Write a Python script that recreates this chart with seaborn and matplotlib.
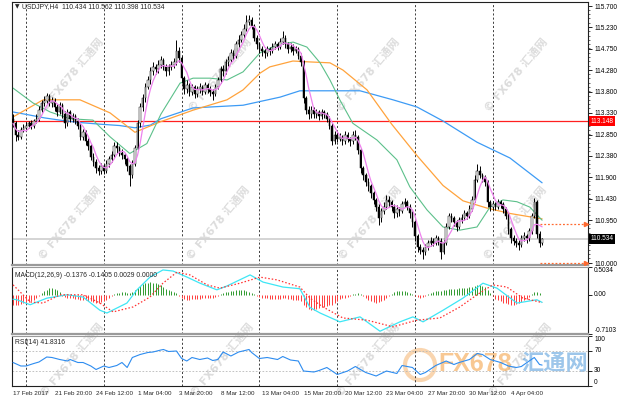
import numpy as np
import pandas as pd
import matplotlib
matplotlib.use("Agg")
import matplotlib.pyplot as plt
import seaborn as sns
from matplotlib.patches import Circle
from matplotlib.transforms import IdentityTransform, blended_transform_factory
from matplotlib.ticker import MultipleLocator

# ---- USDJPY H4 bars (open of a bar = close of the bar before) ----
first_open = 113.20
close = [113.10, 112.85, 112.80, 112.95, 113.00, 113.05, 113.10, 113.05, 113.15, 113.20,
         113.40, 113.55, 113.60, 113.70, 113.55, 113.60, 113.45, 113.35, 113.50, 113.30,
         113.10, 113.35, 113.20, 113.25, 113.15, 113.05, 112.80, 112.90, 112.70, 112.60,
         112.35, 112.25, 112.10, 112.05, 112.15, 112.05, 112.20, 112.30, 112.40, 112.60,
         112.55, 112.45, 112.40, 112.30, 112.15, 111.95, 112.20, 112.55, 113.10, 113.45,
         113.65, 113.90, 114.05, 114.25, 114.35, 114.30, 114.40, 114.50, 114.35, 114.25,
         114.35, 114.40, 114.45, 114.70, 114.55, 114.10, 113.85, 113.95, 113.80, 113.90,
         113.75, 113.85, 113.90, 113.80, 113.95, 113.85, 113.80, 113.75, 113.90, 114.05,
         114.30, 114.25, 114.45, 114.50, 114.65, 114.60, 114.85, 114.95, 115.05, 115.20,
         115.35, 115.40, 115.25, 115.00, 114.85, 114.75, 114.70, 114.65, 114.75, 114.70,
         114.80, 114.85, 114.80, 114.90, 115.00, 114.85, 114.75, 114.80, 114.70, 114.75,
         114.60, 114.45, 113.65, 113.40, 113.30, 113.40, 113.30, 113.35, 113.25, 113.35,
         113.30, 113.20, 113.05, 112.70, 112.85, 112.75, 112.80, 112.70, 112.85, 112.75,
         112.70, 112.85, 112.80, 112.50, 112.10, 111.95, 111.80, 111.70, 111.55, 111.40,
         111.25, 111.00, 111.15, 111.25, 111.40, 111.35, 111.25, 111.10, 111.20, 111.15,
         111.30, 111.35, 111.25, 111.10, 110.90, 110.60, 110.35, 110.30, 110.25, 110.35,
         110.45, 110.50, 110.45, 110.55, 110.50, 110.25, 110.45, 110.80, 111.05, 111.00,
         110.90, 110.80, 110.95, 111.00, 111.10, 111.05, 111.20, 111.40, 111.85, 112.05,
         111.95, 111.90, 111.80, 111.35, 111.25, 111.30, 111.25, 111.35, 111.30, 111.20,
         111.05, 110.75, 110.55, 110.50, 110.45, 110.40, 110.55, 110.60, 110.55, 110.70,
         111.05, 111.35, 110.65, 110.434, 110.534]
high = [113.30, 113.15, 112.95, 113.02, 113.08, 113.12, 113.15, 113.18, 113.20, 113.30,
        113.48, 113.62, 113.70, 113.78, 113.75, 113.68, 113.65, 113.52, 113.58, 113.55,
        113.38, 113.42, 113.40, 113.32, 113.30, 113.22, 113.10, 112.98, 112.95, 112.78,
        112.65, 112.45, 112.30, 112.18, 112.22, 112.20, 112.28, 112.38, 112.48, 112.68,
        112.68, 112.60, 112.52, 112.45, 112.35, 112.20, 112.28, 112.62, 113.18, 113.55,
        113.75, 114.00, 114.15, 114.35, 114.45, 114.42, 114.50, 114.60, 114.55, 114.42,
        114.42, 114.48, 114.55, 114.95, 114.80, 114.60, 114.15, 114.05, 114.00, 113.98,
        113.95, 113.92, 114.00, 113.95, 114.02, 114.00, 113.92, 113.85, 113.98, 114.12,
        114.38, 114.40, 114.52, 114.60, 114.75, 114.72, 114.92, 115.05, 115.15, 115.30,
        115.50, 115.50, 115.45, 115.30, 115.05, 114.90, 114.82, 114.75, 114.82, 114.80,
        114.88, 114.92, 114.90, 114.98, 115.15, 115.05, 114.90, 114.88, 114.85, 114.82,
        114.80, 114.65, 114.50, 113.70, 113.48, 113.48, 113.45, 113.42, 113.40, 113.42,
        113.40, 113.35, 113.25, 113.10, 112.92, 112.90, 112.88, 112.85, 112.92, 112.90,
        112.80, 112.92, 112.95, 112.85, 112.55, 112.15, 112.00, 111.88, 111.75, 111.60,
        111.45, 111.30, 111.22, 111.35, 111.50, 111.48, 111.40, 111.30, 111.28, 111.25,
        111.38, 111.45, 111.40, 111.30, 111.15, 110.95, 110.65, 110.42, 110.35, 110.42,
        110.52, 110.58, 110.55, 110.62, 110.60, 110.55, 110.52, 110.88, 111.12, 111.10,
        111.05, 110.95, 111.02, 111.08, 111.18, 111.15, 111.28, 111.48, 111.95, 112.20,
        112.15, 112.00, 111.95, 111.85, 111.40, 111.38, 111.35, 111.42, 111.40, 111.35,
        111.25, 111.10, 110.80, 110.62, 110.55, 110.52, 110.62, 110.68, 110.65, 110.78,
        111.12, 111.45, 111.40, 110.70, 110.562]
low = [113.02, 112.70, 112.72, 112.75, 112.90, 112.95, 113.00, 112.98, 113.00, 113.10,
       113.15, 113.35, 113.48, 113.55, 113.48, 113.45, 113.38, 113.25, 113.30, 113.22,
       113.00, 113.05, 113.12, 113.12, 113.08, 112.98, 112.72, 112.72, 112.62, 112.50,
       112.28, 112.15, 112.00, 111.95, 111.98, 111.98, 112.00, 112.12, 112.25, 112.35,
       112.45, 112.38, 112.30, 112.20, 112.05, 111.70, 111.88, 112.15, 112.50, 113.02,
       113.38, 113.58, 113.85, 113.98, 114.18, 114.20, 114.22, 114.32, 114.28, 114.15,
       114.18, 114.28, 114.32, 114.40, 114.45, 114.00, 113.75, 113.78, 113.70, 113.72,
       113.65, 113.68, 113.78, 113.72, 113.75, 113.78, 113.70, 113.62, 113.70, 113.85,
       114.00, 114.15, 114.20, 114.38, 114.45, 114.50, 114.55, 114.80, 114.90, 115.00,
       115.15, 115.28, 115.18, 114.92, 114.75, 114.65, 114.60, 114.55, 114.60, 114.62,
       114.65, 114.75, 114.72, 114.75, 114.85, 114.78, 114.65, 114.68, 114.62, 114.65,
       114.52, 114.38, 113.55, 113.30, 113.20, 113.22, 113.22, 113.22, 113.18, 113.20,
       113.22, 113.12, 112.98, 112.62, 112.65, 112.68, 112.70, 112.62, 112.65, 112.68,
       112.60, 112.65, 112.72, 112.42, 112.00, 111.85, 111.70, 111.60, 111.45, 111.30,
       111.15, 110.85, 110.92, 111.08, 111.20, 111.25, 111.15, 111.00, 111.02, 111.05,
       111.10, 111.25, 111.18, 111.00, 110.80, 110.50, 110.25, 110.20, 110.10, 110.18,
       110.28, 110.38, 110.38, 110.40, 110.40, 110.10, 110.20, 110.40, 110.75, 110.92,
       110.82, 110.72, 110.75, 110.88, 110.95, 110.98, 111.00, 111.15, 111.35, 111.80,
       111.88, 111.80, 111.70, 111.25, 111.15, 111.18, 111.18, 111.20, 111.22, 111.12,
       110.98, 110.65, 110.45, 110.40, 110.35, 110.30, 110.35, 110.48, 110.45, 110.50,
       110.65, 111.00, 110.55, 110.35, 110.398]

# ---- moving averages (bar position, price) ----
green_bar = [0, 7.7, 14.3, 22, 30.8, 37.4, 45, 51.6, 57, 64.4, 69.4, 76, 82.5, 88.7, 95.2,
             101.8, 108, 113.3, 118.4, 122.2, 126, 131, 140.3, 148, 153, 159.6, 165.8,
             172.3, 178.9, 183.9, 188.9, 194.3, 199.3, 204]
green_val = [113.88, 113.55, 113.35, 113.20, 113.17, 112.80, 112.43, 112.65, 113.30, 113.99,
             114.10, 114.10, 114.06, 114.24, 114.66, 114.84, 114.90, 114.79, 114.44, 114.06,
             113.62, 113.10, 112.73, 112.29, 111.69, 111.18, 110.80, 110.73, 110.80, 111.24,
             111.40, 111.36, 111.24, 110.95]
orange_bar = [0, 11.6, 25.8, 37.4, 47, 56.7, 69.4, 82.5, 88.7, 95.2, 99, 107.9, 114.5, 122.2,
              127.2, 136.5, 146, 155.8, 165.8, 173.5, 182.7, 191.6, 204]
orange_val = [113.24, 113.62, 113.62, 113.33, 112.90, 113.13, 113.39, 113.62, 113.84, 114.21,
              114.35, 114.48, 114.46, 114.44, 114.28, 113.84, 113.08, 112.38, 111.72, 111.38,
              111.22, 111.10, 110.98]
blue_bar = [0, 6.6, 12, 18, 25, 33.5, 41, 47, 53, 57, 69.4, 88.7, 103, 110.6, 133.8, 146.5,
            155.8, 165.8, 178.9, 191.6, 204]
blue_val = [113.35, 113.28, 113.22, 113.17, 113.12, 113.08, 113.05, 113.00, 113.06, 113.20,
            113.44, 113.50, 113.68, 113.82, 113.82, 113.62, 113.46, 113.15, 112.68, 112.33,
            111.78]
level_red = 113.148
bid = 110.534
order_levels = [110.87, 110.00]

# ---- MACD(12,26,9) ----
macd_bar = [0, 1.5, 6.6, 13.1, 20.8, 27, 33.5, 36.2, 43.9, 47.8, 52.8, 57.8, 61.7, 67.1, 72.1,
            78.6, 82.5, 91.4, 96.4, 104.1, 110.6, 114.5, 118.4, 126, 133.8, 141.5, 149.2,
            154.2, 158.1, 165.8, 173.5, 181.2, 186.6, 194.3, 202, 204]
macd_val = [-0.08, -0.09, -0.18, -0.06, 0.0, -0.04, -0.28, -0.33, -0.15, 0.09, 0.32, 0.45,
            0.43, 0.32, 0.21, 0.09, 0.16, 0.36, 0.23, 0.14, 0.11, -0.23, -0.33, -0.49, -0.40,
            -0.66, -0.49, -0.40, -0.49, -0.28, -0.06, 0.21, 0.12, -0.15, -0.09, -0.1376]
signal_bar = [0, 6.6, 11.6, 18.1, 27, 33.5, 38.6, 46.3, 52.8, 57.8, 63.2, 68.2, 74.8, 79.8,
              87.5, 95.2, 101.8, 110.6, 114.5, 119.5, 127.2, 136.5, 146.5, 155.7, 164.6,
              172.3, 178.9, 185, 190.4, 196.6, 204]
signal_val = [0.18, -0.13, -0.15, 0.0, 0.0, -0.15, -0.31, -0.22, -0.04, 0.21, 0.41, 0.36,
              0.18, 0.12, 0.21, 0.32, 0.27, 0.14, -0.06, -0.22, -0.42, -0.46, -0.58, -0.46,
              -0.42, -0.22, 0.0, 0.18, 0.14, -0.06, -0.1405]
hist = [-0.18, -0.19, -0.18, -0.16, -0.15, -0.14, -0.13, -0.11, -0.09, -0.06,
        -0.03, 0.03, 0.06, 0.09, 0.12, 0.13, 0.11, 0.08, 0.05, -0.02,
        -0.04, -0.05, -0.06, -0.05, -0.07, -0.08, -0.09, -0.10, -0.09, -0.11,
        -0.12, -0.13, -0.14, -0.14, -0.13, -0.12, -0.09, -0.06, -0.03, 0.01,
        0.03, 0.04, 0.05, 0.05, 0.04, 0.03, 0.05, 0.09, 0.13, 0.16,
        0.19, 0.21, 0.22, 0.23, 0.22, 0.21, 0.20, 0.17, 0.14, 0.11,
        0.08, 0.06, 0.05, 0.04, -0.02, -0.05, -0.08, -0.09, -0.09, -0.08,
        -0.08, -0.07, -0.07, -0.06, -0.05, -0.05, -0.05, -0.05, -0.04, -0.02,
        0.02, 0.04, 0.05, 0.05, 0.06, 0.07, 0.08, 0.09, 0.09, 0.08,
        0.07, 0.05, 0.03, 0.01, -0.02, -0.04, -0.05, -0.05, -0.06, -0.07,
        -0.07, -0.08, -0.08, -0.07, -0.06, -0.06, -0.07, -0.08, -0.09, -0.09,
        -0.10, -0.12, -0.18, -0.22, -0.25, -0.27, -0.27, -0.26, -0.24, -0.23,
        -0.22, -0.20, -0.18, -0.18, -0.15, -0.11, -0.07, -0.05, -0.05, -0.04,
        -0.02, 0.01, 0.02, 0.03, 0.02, -0.03, -0.06, -0.09, -0.12, -0.13,
        -0.14, -0.13, -0.12, -0.09, -0.05, -0.02, 0.02, 0.05, 0.06, 0.07,
        0.07, 0.06, 0.05, 0.04, 0.01, -0.02, -0.04, -0.05, -0.04, -0.02,
        0.01, 0.04, 0.05, 0.06, 0.07, 0.06, 0.08, 0.09, 0.10, 0.11,
        0.11, 0.11, 0.12, 0.12, 0.13, 0.13, 0.14, 0.14, 0.16, 0.17,
        0.17, 0.16, 0.14, 0.09, 0.04, -0.03, -0.07, -0.10, -0.12, -0.14,
        -0.15, -0.17, -0.18, -0.18, -0.17, -0.15, -0.13, -0.10, -0.07, -0.04,
        0.02, 0.05, 0.05, 0.04, 0.003]

# ---- RSI(14) ----
rsi_bar = [0, 3, 5, 8, 10, 13, 15, 18, 21, 22, 25, 27, 30, 32, 35, 37, 40, 42, 44, 46, 49, 52,
           54, 57, 58, 60, 63, 65, 67, 69, 72, 75, 77, 79, 81, 84, 87, 91, 92, 95, 98, 102,
           104, 107, 110, 112, 116, 118, 121, 125, 129, 132, 136, 140, 144, 148, 150, 154,
           157, 159, 163, 167, 170, 172, 176, 179, 181, 184, 188, 191, 194, 196, 199, 201,
           203, 204]
rsi_val = [47, 40, 40, 45, 48, 58, 57, 53, 50, 53, 47, 47, 40, 33, 40, 37, 41, 47, 37, 57, 63,
           67, 68, 72, 73, 69, 70, 55, 50, 57, 53, 56, 51, 53, 68, 60, 68, 73, 67, 55, 57, 53,
           59, 52, 50, 30, 28, 31, 37, 23, 30, 39, 27, 20, 30, 25, 41, 37, 23, 27, 41, 50, 43,
           47, 53, 65, 63, 53, 47, 40, 37, 39, 50, 57, 43, 41.83]

price_ticks = [115.700, 115.230, 114.750, 114.280, 113.800, 113.330, 112.850, 112.380,
               111.900, 111.430, 110.950, 110.000]
date_labels = ["17 Feb 2017", "21 Feb 20:00", "24 Feb 12:00", "1 Mar 04:00", "3 Mar 20:00",
               "8 Mar 12:00", "13 Mar 04:00", "15 Mar 20:00", "20 Mar 12:00", "23 Mar 04:00",
               "27 Mar 20:00", "30 Mar 12:00", "4 Apr 04:00"]
date_bars = [0, 16, 32, 48, 64, 80, 96, 112, 128, 144, 160, 176, 192]
grid_bars = [5, 35, 65, 95, 125, 155, 185]

assert len(close) == len(high) == len(low) == len(hist) == 205

df = pd.DataFrame({"close": close, "high": high, "low": low})
df["bar"] = np.arange(len(df))
df["open"] = [first_open] + close[:-1]
df["ma_fast"] = df["close"].rolling(5, min_periods=1).mean()

sns.set_style("white")
plt.rcParams["font.family"] = ["Liberation Sans", "DejaVu Sans", "Noto Sans CJK SC"]
FS = 4.7
W, H = 630, 400

fig = plt.figure(figsize=(6.3, 4.0), dpi=100)
fig.patch.set_facecolor("white")


def box(x0, y0, x1, y1):
    return [x0 / W, 1 - y1 / H, (x1 - x0) / W, (y1 - y0) / H]


ax = fig.add_axes(box(12, 2, 588, 265))
axm = fig.add_axes(box(12, 267, 588, 334), sharex=ax)
axr = fig.add_axes(box(12, 336, 588, 386), sharex=ax)

for a in (ax, axm, axr):
    a.set_facecolor("none")
    for s in a.spines.values():
        s.set_color("#202020")
        s.set_linewidth(0.8)
    for g in grid_bars:
        a.axvline(g, color="#202020", lw=0.6, ls=(0, (2.5, 2.5)), zorder=1)
    a.yaxis.tick_right()
    a.tick_params(axis="y", which="major", direction="out", length=3, width=0.6,
                  pad=1.5, labelsize=FS, colors="#000000")
    a.tick_params(axis="y", which="minor", direction="out", length=1.5, width=0.5)
for a in (ax, axm):
    a.spines["bottom"].set_color("#9a9a9a")
    a.spines["bottom"].set_linewidth(1.6)
for a in (axm, axr):
    a.spines["top"].set_color("#9a9a9a")

# ---- main price panel ----
ax.axhline(bid, color="#d4d4d4", lw=1.4, zorder=1)
ax.axhline(level_red, color="#ff2020", lw=0.9, zorder=2)

sns.lineplot(x=blue_bar, y=blue_val, ax=ax, color="#3d9bf5", lw=0.9, zorder=2)
sns.lineplot(x=orange_bar, y=orange_val, ax=ax, color="#ffa33c", lw=0.9, zorder=2)
sns.lineplot(x=green_bar, y=green_val, ax=ax, color="#5cc08a", lw=0.8, zorder=2)

ax.vlines(df["bar"], df["low"], df["high"], color="black", lw=0.7, zorder=3)
up = df["close"] >= df["open"]
body_lo = df[["open", "close"]].min(axis=1)
body_h = (df["close"] - df["open"]).abs().clip(lower=0.008)
ax.bar(df["bar"][up], body_h[up], bottom=body_lo[up], width=0.6, color="white",
       edgecolor="black", linewidth=0.35, zorder=4)
ax.bar(df["bar"][~up], body_h[~up], bottom=body_lo[~up], width=0.6, color="black",
       edgecolor="black", linewidth=0.35, zorder=4)
sns.lineplot(data=df, x="bar", y="ma_fast", ax=ax, color="#ee82ee", lw=0.9, zorder=5)

for lv in order_levels:
    ax.plot([203, 220.9], [lv, lv], color="#ff6a30", lw=0.9, ls=(0, (1.5, 1.5)), zorder=5)
    ax.plot([220.9], [lv], marker=">", ms=3, color="#ff6a30", zorder=5)

ax.set_xlim(-0.4, 221.7)
ax.set_ylim(109.957, 115.789)
ax.set_yticks(price_ticks, labels=[f"{v:.3f}" for v in price_ticks])
ax.yaxis.set_minor_locator(MultipleLocator(0.095))
ax.tick_params(axis="x", length=0, labelbottom=False)
ax.set_xlabel("")
ax.set_ylabel("")

tr = blended_transform_factory(ax.transAxes, ax.transData)
ax.text(1.004, level_red, "113.148", transform=tr, ha="left", va="center", fontsize=FS,
        color="white", bbox=dict(boxstyle="square,pad=0.25", fc="#ff0000", ec="none"))
ax.text(1.004, bid, "110.534", transform=tr, ha="left", va="center", fontsize=FS,
        color="white", bbox=dict(boxstyle="square,pad=0.25", fc="#000000", ec="none"))

fig.text(15 / W, 1 - 7 / H, "\u25bc", fontsize=4.2, va="center", ha="left",
         family=["DejaVu Sans"])
fig.text(22 / W, 1 - 7 / H, "USDJPY,H4  110.434 110.562 110.398 110.534", fontsize=4.9,
         va="center", ha="left")

# ---- MACD panel ----
hist_colors = ["#2f9a2f" if h > 0 else "#ff3b3b" for h in hist]
axm.vlines(df["bar"], 0, hist, colors=hist_colors, lw=0.7, zorder=2)
sns.lineplot(x=macd_bar, y=macd_val, ax=axm, color="#3ee6f5", lw=0.9, zorder=3)
sns.lineplot(x=signal_bar, y=signal_val, ax=axm, color="#ff3030", lw=0.9,
             linestyle=(0, (1.2, 1.6)), zorder=3)
axm.set_ylim(-0.7103, 0.5034)
axm.set_yticks([-0.7103, 0.0, 0.5034], labels=["-0.7103", "0.00", "0.5034"])
for lab, va in zip(axm.get_yticklabels(), ["bottom", "center", "top"]):
    lab.set_va(va)
axm.tick_params(axis="x", length=0, labelbottom=False)
axm.set_xlabel("")
axm.set_ylabel("")
axm.text(0.005, 0.93, "MACD(12,26,9) -0.1376 -0.1405 0.0029 0.0000", transform=axm.transAxes,
         fontsize=4.9, va="top", ha="left")

# ---- RSI panel ----
for lv in (30, 70):
    axr.axhline(lv, color="#b8b8b8", lw=0.6, ls=(0, (2, 2)), zorder=1)
sns.lineplot(x=rsi_bar, y=rsi_val, ax=axr, color="#2d8cf0", lw=0.8, zorder=3)
axr.set_ylim(0, 100)
axr.set_yticks([0, 30, 70, 100], labels=["0", "30", "70", "100"])
for lab, va in zip(axr.get_yticklabels(), ["bottom", "center", "center", "top"]):
    lab.set_va(va)
axr.text(0.005, 0.93, "RSI(14) 41.8316", transform=axr.transAxes, fontsize=4.9,
         va="top", ha="left")
axr.set_xticks(date_bars, labels=date_labels)
for lab in axr.get_xticklabels():
    lab.set_ha("left")
axr.tick_params(axis="x", direction="out", length=2.5, width=0.6, pad=1, labelsize=4.5)
axr.set_xlim(-0.4, 221.7)
axr.set_xlabel("")
axr.set_ylabel("")

# ---- watermarks ----
wm_font = ["DejaVu Sans", "Noto Sans CJK SC"]
for cx, cy in [(72, 75), (220, 75), (368, 75), (516, 75),
               (70, 223), (218, 223), (370, 223), (515, 223),
               (72, 360), (222, 360), (368, 360), (520, 360)]:
    fig.text(cx / W, 1 - cy / H, "\u00a9 FX678 \u6c47\u901a\u7f51", rotation=50,
             ha="center", va="center", fontsize=8, fontweight="bold",
             color="#dcdcdc", family=wm_font, zorder=-1)

fig.add_artist(Circle((420, H - 365), 15, transform=IdentityTransform(), fill=False,
                      edgecolor="#f3a24e", lw=3, alpha=0.45, zorder=-1))
fig.text(475 / W, 1 - 364 / H, "FX678", fontsize=18, fontweight="bold", color="#f39c3a",
         alpha=0.55, ha="center", va="center", family=["Liberation Sans", "DejaVu Sans"],
         zorder=-1)
fig.text(555 / W, 1 - 364 / H, "\u6c47\u901a\u7f51", fontsize=16, fontweight="bold",
         color="#3d8fd6", alpha=0.5, ha="center", va="center",
         family=["Noto Sans CJK SC"], zorder=-1)

fig.savefig("out.png", dpi=100, facecolor="white")
